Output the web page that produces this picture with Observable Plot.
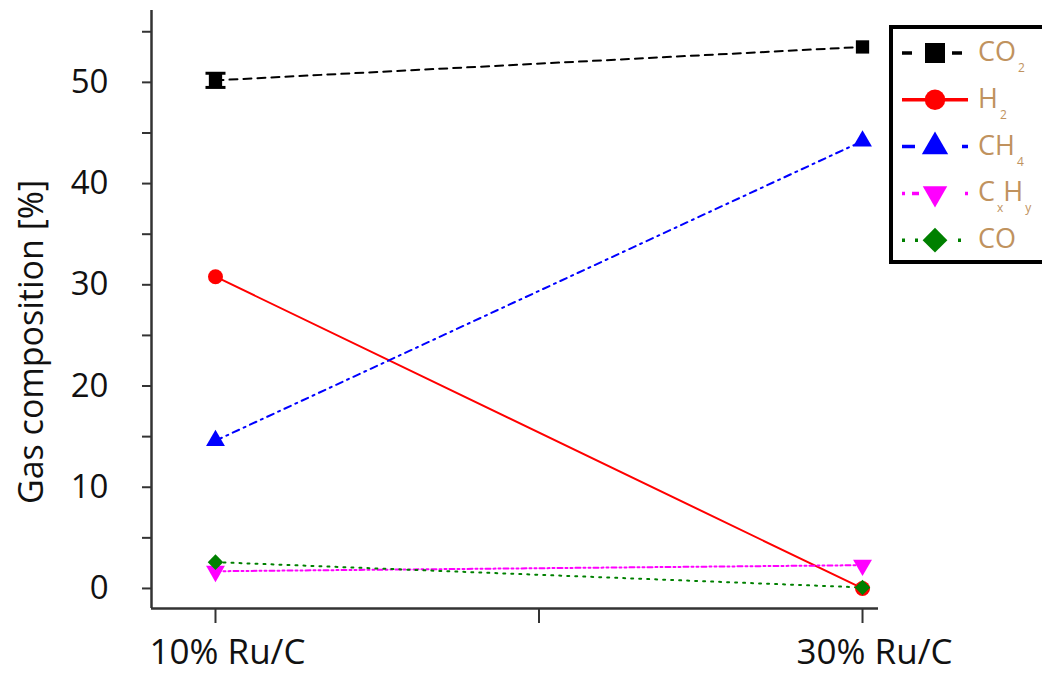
<!DOCTYPE html>
<html>
<head>
<meta charset="utf-8">
<script src="https://cdn.jsdelivr.net/npm/d3@7"></script>
<script src="https://cdn.jsdelivr.net/npm/@observablehq/plot@0.6"></script>
<style>
  html, body { margin: 0; padding: 0; background: #fff; }
  #wrap { position: relative; width: 1042px; height: 673px; overflow: hidden; font-family: "Open Sans", sans-serif; }
  #legend { position: absolute; left: 889px; top: 25px; }
</style>
</head>
<body>
<div id="wrap"></div>
<script>
// ---- data ----
const catalysts = ["10% Ru/C", "30% Ru/C"];
const catalystPos = [0, 1];
const seriesNames = ["CO2", "H2", "CH4", "CxHy", "CO"];
const co2 = [50.2, 53.5];
const h2 = [30.8, 0.0];
const ch4 = [14.6, 44.2];
const cxhy = [1.7, 2.3];
const co = [2.6, 0.1];
const co2Err = [0.7, 0.0];
const yTickValues = [0, 5, 10, 15, 20, 25, 30, 35, 40, 45, 50, 55];
const xTickValues = [0, 0.5, 1];

const seriesValues = { CO2: co2, H2: h2, CH4: ch4, CxHy: cxhy, CO: co };
const colors = { CO2: "#000000", H2: "#ff0000", CH4: "#0000ff", CxHy: "#ff00ff", CO: "#008000" };
const dashes = { CO2: "8,6", H2: null, CH4: "7,5,2,5", CxHy: "5,3,2,3,2,3", CO: "2,6" };

const triDown = {
  draw(ctx, size) {
    const y = -Math.sqrt(size / (Math.sqrt(3) * 3));
    ctx.moveTo(0, -2 * y);
    ctx.lineTo(-Math.sqrt(3) * y, y);
    ctx.lineTo(Math.sqrt(3) * y, y);
    ctx.closePath();
  }
};
const capSym = {
  draw(ctx, size) {
    ctx.moveTo(-10, 0);
    ctx.lineTo(10, 0);
  }
};
const symbols = { CO2: "square", H2: "circle", CH4: "triangle", CxHy: triDown, CO: "diamond2" };
const radii = { CO2: 7.5, H2: 7.5, CH4: 7, CxHy: 7, CO: 7 };
const d3symbols = { CO2: d3.symbolSquare, H2: d3.symbolCircle, CH4: d3.symbolTriangle, CxHy: triDown, CO: d3.symbolDiamond2 };
const legendSizes = { CO2: 400, H2: 330, CH4: 300, CxHy: 260, CO: 390 };

const rows = seriesNames.flatMap(s => catalystPos.map((p, i) => ({ series: s, x: p, y: seriesValues[s][i] })));
const errRows = catalystPos.map((p, i) => ({ x: p, lo: co2[i] - co2Err[i], hi: co2[i] + co2Err[i] })).filter(d => d.hi > d.lo);

const xMin = -0.0989, xMax = 1.0247;
const yMin = -1.98, yMax = 57.1;

const marks = [];
for (const s of seriesNames) {
  marks.push(Plot.line(rows.filter(d => d.series === s), {
    x: "x", y: "y", stroke: colors[s], strokeWidth: 2,
    strokeDasharray: dashes[s] || undefined
  }));
}
for (const s of seriesNames) {
  marks.push(Plot.dot(rows.filter(d => d.series === s), {
    x: "x", y: "y", symbol: symbols[s], fill: colors[s], r: radii[s], stroke: "none"
  }));
  if (s === "CO2") {
    marks.push(Plot.ruleX(errRows, { x: "x", y1: "lo", y2: "hi", stroke: "#000", strokeWidth: 2.5 }));
    marks.push(Plot.dot(errRows, { x: "x", y: "lo", symbol: capSym, stroke: "#000", strokeWidth: 3, r: 5 }));
    marks.push(Plot.dot(errRows, { x: "x", y: "hi", symbol: capSym, stroke: "#000", strokeWidth: 3, r: 5 }));
  }
}

const chart = Plot.plot({
  width: 1042,
  height: 673,
  marginLeft: 151,
  marginRight: 1042 - 878,
  marginTop: 10,
  marginBottom: 673 - 608,
  style: { fontFamily: "'Open Sans', sans-serif", color: "#222", background: "#fff" },
  x: { domain: [xMin, xMax] },
  y: { domain: [yMin, yMax] },
  marks: [
    Plot.axisY({
      ticks: yTickValues, tickSize: 9, tickPadding: 34, fontSize: 33,
      tickFormat: d => (d % 10 === 0 ? String(d) : ""), label: null, strokeWidth: 2, stroke: "#333", fill: "#111"
    }),
    // x ticks (no labels)
    Plot.axisX({
      ticks: xTickValues, tickSize: 15, tickFormat: () => "", label: null, strokeWidth: 2, stroke: "#333"
    }),
    // x tick labels (shifted right, as in reference)
    Plot.axisX({
      ticks: [0, 1], tickSize: 0, tickPadding: 31, fontSize: 35, dx: 12,
      tickFormat: d => catalysts[catalystPos.indexOf(d)], label: null, fill: "#111"
    }),
    Plot.ruleX([xMin], { stroke: "#333", strokeWidth: 2.5 }),
    Plot.ruleY([yMin], { stroke: "#333", strokeWidth: 2.5 }),
    ...marks
  ]
});

const wrap = document.getElementById("wrap");
wrap.appendChild(chart);

// y-axis title
d3.select(chart).append("text")
  .attr("transform", "translate(30,342) rotate(-90)")
  .attr("text-anchor", "middle")
  .attr("dominant-baseline", "central")
  .attr("font-size", 34)
  .attr("font-family", "'Open Sans', sans-serif")
  .attr("fill", "#111")
  .text("Gas composition [%]");

// legend overlay
const legendSvg = d3.select(wrap).append("svg")
  .attr("id", "legend")
  .attr("width", 170).attr("height", 240);
legendSvg.append("rect")
  .attr("x", 2).attr("y", 2).attr("width", 170).attr("height", 235)
  .attr("fill", "#fff").attr("stroke", "#000").attr("stroke-width", 4);

const legendLabels = {
  CO2: [["CO", 0], ["2", 1]],
  H2: [["H", 0], ["2", 1]],
  CH4: [["CH", 0], ["4", 1]],
  CxHy: [["C", 0], ["x", 1], ["H", 0], ["y", 1]],
  CO: [["CO", 0]]
};
const legendTextColor = "#c0925e";
seriesNames.forEach((s, i) => {
  const cy = 28 + i * 46.8;
  const g = legendSvg.append("g");
  g.append("line")
    .attr("x1", 13).attr("x2", 79).attr("y1", cy).attr("y2", cy)
    .attr("stroke", colors[s]).attr("stroke-width", 3.5)
    .attr("stroke-dasharray", s === "CO2" ? "10,40,10" : s === "CH4" ? "13,47,13" : s === "CxHy" ? "3,7,7,46,3,7,3" : s === "CO" ? "3,10,3,40,3,10,3" : null);
  g.append("path")
    .attr("transform", `translate(46,${cy})`)
    .attr("d", d3.symbol(d3symbols[s], legendSizes[s])())
    .attr("fill", colors[s]);
  const t = g.append("text")
    .attr("x", 89).attr("y", cy + 8)
    .attr("font-size", 27)
    .attr("font-family", "'Open Sans', sans-serif")
    .attr("fill", legendTextColor);
  let sub = false;
  for (const [txt, isSub] of legendLabels[s]) {
    const ts = t.append("tspan").text(txt);
    if (isSub && !sub) { ts.attr("dy", 11).attr("font-size", 12).attr("dx", 2); sub = true; }
    else if (!isSub && sub) { ts.attr("dy", -11).attr("font-size", 27); sub = false; }
  }
});
</script>
</body>
</html>
